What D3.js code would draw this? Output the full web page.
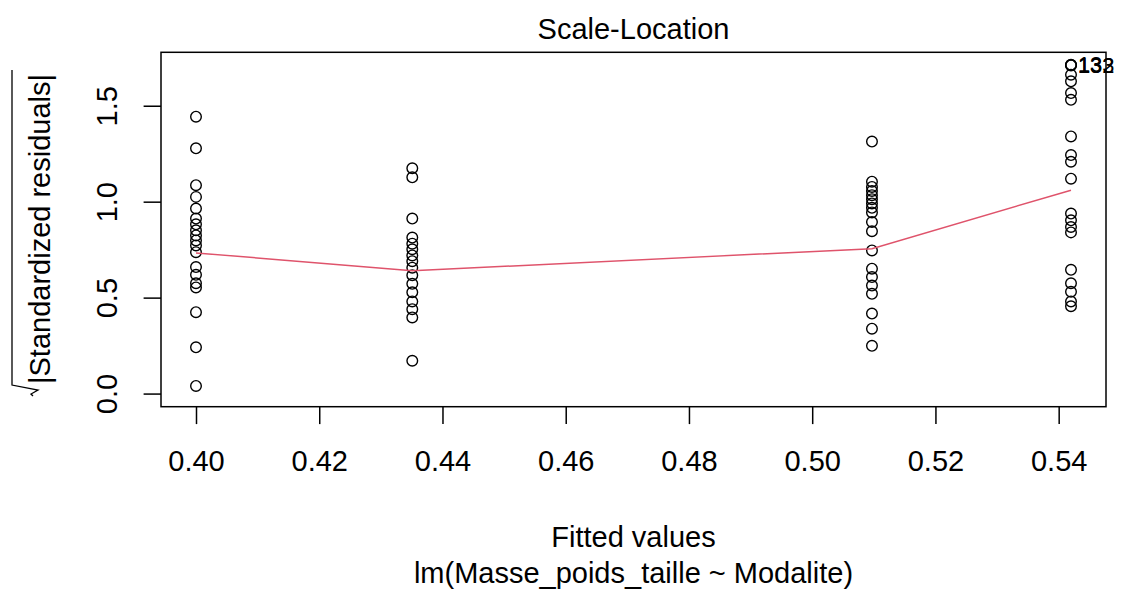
<!DOCTYPE html>
<html>
<head>
<meta charset="utf-8">
<script src="https://cdn.jsdelivr.net/npm/d3@7"></script>
<style>
  html, body { margin: 0; padding: 0; background: #fff; }
  svg text { font-family: "Liberation Sans", Arial, sans-serif; fill: #000; }
</style>
</head>
<body>
<div id="chart"></div>
<script>
// Scale-Location plot (plot.lm, which = 3)
const fittedLevels = [0.4000, 0.4351, 0.5097, 0.5420];

// sqrt(|standardized residuals|) per fitted level
const resid040 = [1.443, 1.278, 1.086, 1.025, 0.964, 0.912, 0.882, 0.851, 0.824, 0.798,
                  0.772, 0.737, 0.659, 0.619, 0.575, 0.553, 0.424, 0.241, 0.040];
const resid0435 = [1.174, 1.127, 0.912, 0.813, 0.781, 0.752, 0.720, 0.690, 0.656, 0.616,
                   0.572, 0.528, 0.480, 0.440, 0.397, 0.171];
const resid051 = [1.313, 1.104, 1.077, 1.056, 1.034, 1.013, 0.991, 0.968, 0.944, 0.894,
                  0.846, 0.746, 0.651, 0.607, 0.563, 0.520, 0.417, 0.338, 0.249];
const resid0542 = [1.714, 1.712, 1.710, 1.662, 1.627, 1.566, 1.531, 1.340, 1.243, 1.208,
                   1.120, 0.938, 0.903, 0.868, 0.840, 0.645, 0.575, 0.530, 0.480, 0.455];
const residGroups = [resid040, resid0435, resid051, resid0542];

// lowess smoother value at each fitted level
const smoothValues = [0.733, 0.640, 0.755, 1.060];

// labelled points (group index, point index, label)
const idLabels = [[3, 0, '13'], [3, 1, '132'], [3, 2, '133']];

const xTicks = [0.40, 0.42, 0.44, 0.46, 0.48, 0.50, 0.52, 0.54];
const yTicks = [0.0, 0.5, 1.0, 1.5];
const yLimits = [0, 1.71];

const title = 'Scale-Location';
const xLabel = 'Fitted values';
const subCaption = 'lm(Masse_poids_taille ~ Modalite)';
const yLabel = '|Standardized residuals|';

const width = 1123, height = 590;
const box = { left: 161, right: 1106, top: 52.3, bottom: 406.7 };
const lineH = 34.8;   // one margin line
const fontPx = 29;

// R style limits: range extended by 4% on each side
function pad(lim) {
  const d = (lim[1] - lim[0]) * 0.04;
  return [lim[0] - d, lim[1] + d];
}

const points = [];
residGroups.forEach((g, i) => g.forEach((v, j) => points.push({ x: fittedLevels[i], y: v, g: i, j })));

const xScale = d3.scaleLinear()
  .domain(pad(d3.extent(fittedLevels)))
  .range([box.left, box.right]);

const yScale = d3.scaleLinear()
  .domain(pad(yLimits))
  .range([box.bottom, box.top]);

const svg = d3.select('#chart').append('svg')
  .attr('width', width)
  .attr('height', height);

svg.append('rect').attr('width', width).attr('height', height).attr('fill', '#fff');

// points
svg.append('g')
  .selectAll('circle')
  .data(points)
  .enter()
  .append('circle')
  .attr('cx', d => xScale(d.x))
  .attr('cy', d => yScale(d.y))
  .attr('r', 5.3)
  .attr('fill', 'none')
  .attr('stroke', '#000')
  .attr('stroke-width', 1.4);

// smoother
const line = d3.line()
  .x((d, i) => xScale(fittedLevels[i]))
  .y(d => yScale(d));

svg.append('path')
  .datum(smoothValues)
  .attr('d', line)
  .attr('fill', 'none')
  .attr('stroke', '#DF536B')
  .attr('stroke-width', 1.5);

// id labels (they overlap in the original too)
svg.append('g')
  .selectAll('text')
  .data(idLabels)
  .enter()
  .append('text')
  .attr('x', d => xScale(fittedLevels[d[0]]) + 7)
  .attr('y', d => yScale(residGroups[d[0]][d[1]]))
  .attr('dy', '0.35em')
  .attr('font-size', fontPx * 0.75)
  .text(d => d[2]);

// box
svg.append('rect')
  .attr('x', box.left)
  .attr('y', box.top)
  .attr('width', box.right - box.left)
  .attr('height', box.bottom - box.top)
  .attr('fill', 'none')
  .attr('stroke', '#000')
  .attr('stroke-width', 1.5);

// x axis
const xAxis = svg.append('g')
  .attr('transform', `translate(0,${box.bottom})`)
  .call(d3.axisBottom(xScale).tickValues(xTicks).tickSize(lineH / 2).tickFormat(d3.format('.2f')));
xAxis.select('.domain').remove();
xAxis.selectAll('line').attr('stroke', '#000').attr('stroke-width', 1.5);
xAxis.selectAll('text')
  .attr('y', 2 * lineH - 0.25 * fontPx + 2)
  .attr('dy', null)
  .attr('font-size', fontPx)
  .attr('font-family', '"Liberation Sans", Arial, sans-serif')
  .attr('fill', '#000');

// y axis
const yAxis = svg.append('g')
  .attr('transform', `translate(${box.left},0)`)
  .call(d3.axisLeft(yScale).tickValues(yTicks).tickSize(lineH / 2).tickFormat(d3.format('.1f')));
yAxis.select('.domain').remove();
yAxis.selectAll('line').attr('stroke', '#000').attr('stroke-width', 1.5);
yAxis.selectAll('text')
  .attr('x', 0)
  .attr('y', -44)
  .attr('dy', null)
  .attr('transform', 'rotate(-90)')
  .attr('text-anchor', 'middle')
  .attr('font-size', fontPx)
  .attr('font-family', '"Liberation Sans", Arial, sans-serif')
  .attr('fill', '#000');

// title and axis titles
svg.append('text')
  .attr('x', (box.left + box.right) / 2)
  .attr('y', 39)
  .attr('text-anchor', 'middle')
  .attr('font-size', fontPx)
  .text(title);

svg.append('text')
  .attr('x', (box.left + box.right) / 2)
  .attr('y', 547)
  .attr('text-anchor', 'middle')
  .attr('font-size', fontPx)
  .text(xLabel);

svg.append('text')
  .attr('x', (box.left + box.right) / 2)
  .attr('y', 583)
  .attr('text-anchor', 'middle')
  .attr('font-size', fontPx)
  .text(subCaption);

// y label with square root sign
const yl = svg.append('g').attr('transform', 'translate(50,229) rotate(-90)');
const ylText = yl.append('text')
  .attr('text-anchor', 'middle')
  .attr('font-size', fontPx)
  .text(yLabel);
const bb = ylText.node().getBBox();
const x0 = bb.x, x1 = bb.x + bb.width;
yl.append('path')
  .attr('d', `M${x1 + 4},-38 H${x0 - 1} L${x0 - 6},-12 L${x0 - 10},-19 L${x0 - 12},-17`)
  .attr('fill', 'none')
  .attr('stroke', '#000')
  .attr('stroke-width', 1.3);
</script>
</body>
</html>
